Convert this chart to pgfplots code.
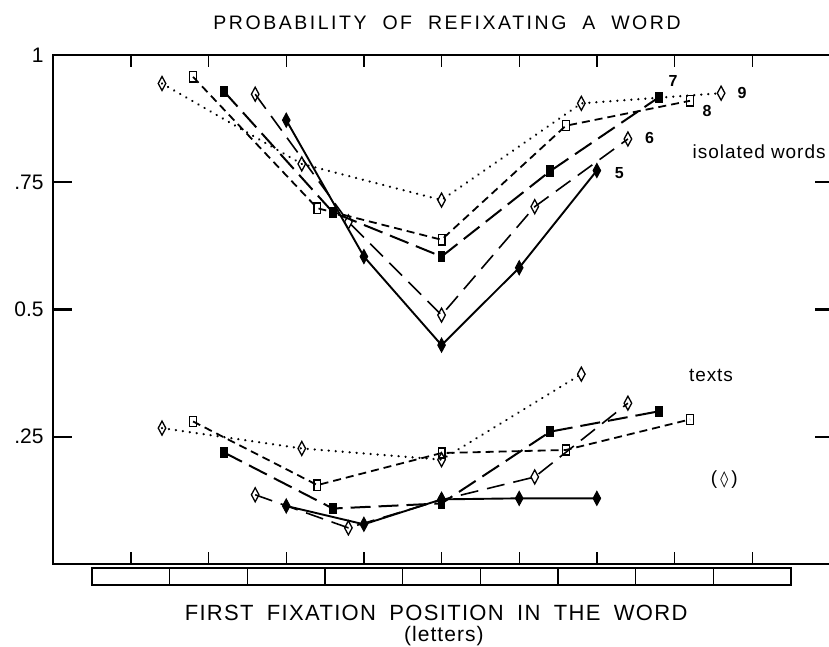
\documentclass[border=0pt]{standalone}
\usepackage{fontspec}
\setmainfont{Liberation Sans}
\newfontfamily\spaced[LetterSpace=13,WordSpace=2]{Liberation Sans}
\newfontfamily\xspaced[LetterSpace=6,WordSpace=1.8]{Liberation Sans}
\newfontfamily\lspaced[LetterSpace=5]{Liberation Sans}
\newfontfamily\sym{DejaVu Sans}
\usepackage{pgfplots}
\pgfplotsset{compat=1.18}

\pgfplotsset{
  odia/.style={mark=diamond, mark size=7pt, mark options={solid, fill=white, line width=1.3pt, xscale=0.72}},
  fdia/.style={mark=diamond*, mark size=7pt, mark options={solid, fill=black, line width=1pt, xscale=0.72}},
  osq/.style={mark=square, mark size=3.4pt, mark options={solid, fill=white, line width=1.3pt, yscale=1.5}},
  fsq/.style={mark=square*, mark size=3.4pt, mark options={solid, fill=black, line width=1pt, yscale=1.5}},
  s9/.style={black, line width=2.5pt, line cap=round, dash pattern=on 0.01pt off 7pt, odia},
  s8/.style={black, line width=1.8pt, dash pattern=on 8pt off 5pt, osq},
  s7/.style={black, line width=2pt, dash pattern=on 20pt off 8pt, fsq},
  s6/.style={black, line width=1.6pt, dash pattern=on 18pt off 9pt, odia},
  s5/.style={black, line width=1.9pt, solid, fdia},
}

\begin{document}
\begin{tikzpicture}[x=1pt,y=1pt]
\useasboundingbox (-53.3,-83) rectangle (775.7,564);
\begin{axis}[
  at={(0,0)}, anchor=south west,
  scale only axis, width=776.5pt, height=509pt,
  xmin=0, xmax=10, ymin=0, ymax=1,
  clip=false,
  axis line style={line width=1.6pt},
  xtick={1,2,3,4,5,6,7,8,9}, xticklabels={},
  tick align=inside, xtick pos=both,
  major tick length=12pt,
  xtick style={line width=1.3pt, black},
  ytick={0.25,0.5,0.75,1}, yticklabels={.25,0.5,.75,1},
  ytick style={draw=none},
  yticklabel pos=left,
  yticklabel style={anchor=east, inner sep=0pt, xshift=-9.5pt, font=\fontsize{21}{21}\selectfont},
]
% isolated words
\addplot[s9] coordinates {(1.4,0.944) (3.2,0.786) (5.0,0.715) (6.8,0.905) (8.6,0.925)};
\addplot[s8] coordinates {(1.8,0.957) (3.4,0.699) (5.0,0.637) (6.6,0.861) (8.2,0.910)};
\addplot[s7] coordinates {(2.2,0.928) (3.6,0.691) (5.0,0.604) (6.4,0.772) (7.8,0.917)};
\addplot[s6] coordinates {(2.6,0.923) (3.8,0.672) (5.0,0.489) (6.2,0.702) (7.4,0.835)};
\addplot[s5] coordinates {(3,0.872) (4,0.604) (5,0.430) (6,0.582) (7,0.773)};
% texts
\addplot[s9] coordinates {(1.4,0.267) (3.2,0.227) (5.0,0.205) (6.8,0.373)};
\addplot[s8] coordinates {(1.8,0.280) (3.4,0.155) (5.0,0.218) (6.6,0.224) (8.2,0.284)};
\addplot[s7] coordinates {(2.2,0.219) (3.6,0.109) (5.0,0.119) (6.4,0.260) (7.8,0.300)};
\addplot[s6] coordinates {(2.6,0.136) (3.8,0.071) (5.0,0.126) (6.2,0.171) (7.4,0.316)};
\addplot[s5] coordinates {(3,0.114) (4,0.078) (5,0.127) (6,0.129) (7,0.129)};

% thicker top line
\draw[line width=2.8pt] (axis cs:0,1) -- (axis cs:10,1);
% y ticks left and right
\pgfplotsinvokeforeach{0.25,0.5,0.75}{
  \draw[line width=2.2pt] (axis cs:0,#1) -- ++(19pt,0);
  \draw[line width=2.2pt] (axis cs:10,#1) -- ++(-15pt,0);
}
% ruler under the axis
\draw[line width=1.4pt] (axis cs:0.5,-0.0079) rectangle (axis cs:9.5,-0.0413);
\pgfplotsinvokeforeach{1.5,2.5,3.5,4.5,5.5,6.5,7.5,8.5}{
  \draw[line width=1.2pt] (axis cs:#1,-0.0079) -- (axis cs:#1,-0.0413);
}
% curve labels
\node[font=\fontsize{16}{16}\selectfont\bfseries] at (axis cs:7.98,0.948) {7};
\node[font=\fontsize{16}{16}\selectfont\bfseries] at (axis cs:8.42,0.889) {8};
\node[font=\fontsize{16}{16}\selectfont\bfseries] at (axis cs:8.87,0.925) {9};
\node[font=\fontsize{16}{16}\selectfont\bfseries] at (axis cs:7.68,0.836) {6};
\node[font=\fontsize{16}{16}\selectfont\bfseries] at (axis cs:7.29,0.768) {5};
\node[font=\fontsize{19}{19}\lspaced] at (axis cs:9.09,0.81) {isolated words};
\node[font=\fontsize{19}{19}\lspaced] at (axis cs:8.47,0.371) {texts};
\node[font=\fontsize{19}{19}\selectfont] at (axis cs:8.64,0.165) {(\,{\sym\fontsize{16}{16}\selectfont ◊}\,)};
% titles
\node[font=\fontsize{19.5}{19.5}\spaced] at (axis cs:5.07,1.063) {PROBABILITY OF REFIXATING A WORD};
\node[font=\fontsize{22}{22}\xspaced] at (axis cs:4.93,-0.096) {FIRST FIXATION POSITION IN THE WORD};
\node[font=\fontsize{21}{21}\lspaced] at (axis cs:5.03,-0.142) {(letters)};
\end{axis}
\end{tikzpicture}
\end{document}
